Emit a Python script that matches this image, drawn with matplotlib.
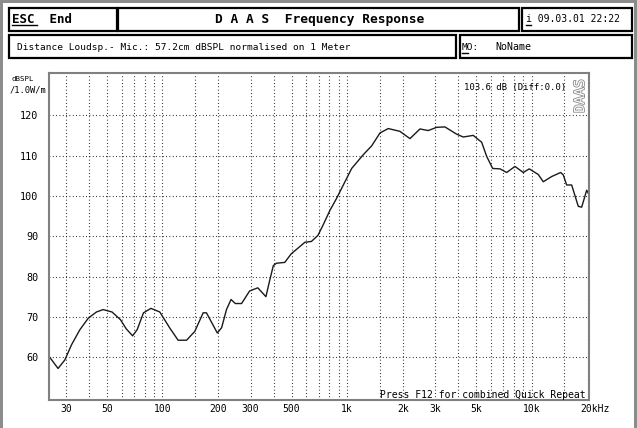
import matplotlib
matplotlib.use("Agg")
import matplotlib.pyplot as plt
import matplotlib.patches as patches
import matplotlib.patheffects as pe
from matplotlib.transforms import ScaledTranslation

# frequency response (Hz, dB SPL)
freq = [24.5, 27.2, 29.6, 32.2, 35.7, 39.7, 43.9, 47.7, 53.3, 59.2, 63.7, 68.9,
        72.9, 78.9, 86.6, 96.7, 109.6, 121.5, 135, 149.6, 166, 173, 198, 209,
        222, 235, 248, 268, 296, 328, 363, 378, 398, 414, 459, 497, 590, 640,
        694, 739, 806, 874, 894, 1057, 1221, 1356, 1504, 1668, 1929, 2186,
        2476, 2745, 3048, 3381, 3913, 4248, 4812, 5343, 5687, 6130, 6715,
        7297, 8093, 8975, 9672, 10820, 11517, 12790, 14307, 14777, 15413,
        16410, 17816, 18588, 19782, 20436]
spl = [60.0, 57.2, 59.3, 63.1, 66.8, 69.7, 71.2, 71.8, 71.2, 69.3, 67.0, 65.3,
       66.8, 71.0, 72.1, 71.2, 67.2, 64.2, 64.2, 66.4, 71.0, 71.0, 66.0, 67.3,
       71.8, 74.3, 73.3, 73.3, 76.4, 77.2, 75.0, 78.5, 82.7, 83.3, 83.5, 85.6,
       88.5, 88.7, 90.2, 92.7, 96.4, 99.3, 100.2, 106.8, 110.2, 112.4, 115.6,
       116.7, 116.0, 114.2, 116.6, 116.2, 117.0, 117.1, 115.3, 114.6, 115.0,
       113.3, 109.8, 106.8, 106.7, 105.8, 107.3, 105.8, 106.7, 105.3, 103.5,
       104.8, 105.8, 105.2, 102.7, 102.7, 97.4, 97.2, 101.4, 100.2]

x_major = [30, 50, 100, 200, 300, 500, 1000, 2000, 3000, 5000, 10000, 20000]
x_labels = ["30", "50", "100", "200", "300", "500", "1k", "2k", "3k", "5k",
            "10k", "20kHz"]
x_minor = [40, 60, 70, 80, 90, 150, 400, 600, 700, 800, 900, 1500, 4000,
           6000, 7000, 8000, 9000, 15000]
y_ticks = [60, 70, 80, 90, 100, 110, 120]

W, H = 637, 428
MONO = "DejaVu Sans Mono"
plt.rcParams["font.family"] = MONO


def fx(x):
    return x / W


def fy(y):
    return 1 - y / H


fig = plt.figure(figsize=(W / 100, H / 100), dpi=100)
fig.patch.set_facecolor("white")

# gray screen edges
for x0, y0, w, h in [(0, 0, 3, H), (634, 0, 3, H), (0, 0, W, 3)]:
    fig.patches.append(patches.Rectangle((fx(x0), fy(y0 + h)), w / W, h / H,
                                         transform=fig.transFigure,
                                         facecolor="#8c8c8c", edgecolor="none"))

# header boxes
boxes = [(9, 8, 117, 30.5), (118, 8, 519, 30.5), (522, 8, 632, 30.5),
         (9, 35, 456, 58), (460, 35, 632, 58)]
for x0, y0, x1, y1 in boxes:
    fig.patches.append(patches.Rectangle((fx(x0), fy(y1)), (x1 - x0) / W,
                                         (y1 - y0) / H,
                                         transform=fig.transFigure,
                                         facecolor="white", edgecolor="black",
                                         lw=1.6))

fig.text(fx(12), fy(19.5), "ESC  End", fontsize=9, fontweight="bold",
         va="center", ha="left")
fig.text(fx(320), fy(19.5), "D A A S  Frequency Response", fontsize=9.3,
         fontweight="bold", va="center", ha="center")
fig.text(fx(526), fy(19.5), "i 09.03.01 22:22", fontsize=7, va="center",
         ha="left")
fig.text(fx(17), fy(47), "Distance Loudsp.- Mic.: 57.2cm dBSPL normalised on 1 Meter",
         fontsize=6.8, va="center", ha="left")
fig.text(fx(462), fy(47), "MO:", fontsize=6.8, va="center", ha="left")
fig.text(fx(495), fy(47), "NoName", fontsize=7.2, va="center", ha="left")

# hotkey underlines
for x0, x1, y in [(12, 37, 24.5), (526, 531, 24.5), (462, 468, 53)]:
    fig.add_artist(plt.Line2D([fx(x0), fx(x1)], [fy(y), fy(y)], color="black",
                              lw=1.0, transform=fig.transFigure))

fig.text(fx(23), fy(79), "dBSPL", fontsize=5.3, va="center", ha="center")
fig.text(fx(28), fy(90), "/1.0W/m", fontsize=6.3, va="center", ha="center")

ax = fig.add_axes([fx(49), fy(399.5), (589.3 - 49) / W, (399.5 - 73.3) / H])
ax.semilogx(freq, spl, color="#1a1a1a", lw=1.0)
ax.set_xlim(24.3, 20440)
ax.set_ylim(49.5, 130.4)

ax.set_xticks(x_major)
ax.set_xticklabels(x_labels)
ax.set_xticks(x_minor, minor=True)
ax.set_xticklabels([], minor=True)
ax.set_yticks(y_ticks)
ax.set_yticklabels([str(v) for v in y_ticks])
ax.tick_params(which="both", length=0)
ax.tick_params(axis="x", pad=3.5, labelsize=7)
ax.tick_params(axis="y", pad=7.5, labelsize=7.3)

last = ax.get_xticklabels()[-1]
last.set_horizontalalignment("left")
last.set_transform(last.get_transform() +
                   ScaledTranslation(-7 / 100, 0, fig.dpi_scale_trans))

ax.grid(True, which="both", color="black", lw=0.8, linestyle=(0, (0.7, 2.3)))
for s in ax.spines.values():
    s.set_color("#808080")
    s.set_linewidth(1.5)

ax.text(fx(464) * W, 0, "", transform=ax.transAxes)
fig.text(fx(464), fy(87.7), "103.6 dB (Diff:0.0)", fontsize=6.5,
         va="center", ha="left")
fig.text(fx(580), fy(96), "DAAS", fontsize=10, rotation=90, va="center",
         ha="center", color="white",
         path_effects=[pe.withStroke(linewidth=1.2, foreground="#8a8a8a")])
fig.text(fx(380), fy(395), "Press F12 for combined Quick Repeat", fontsize=7,
         va="center", ha="left")

fig.savefig("out.png", dpi=100)
